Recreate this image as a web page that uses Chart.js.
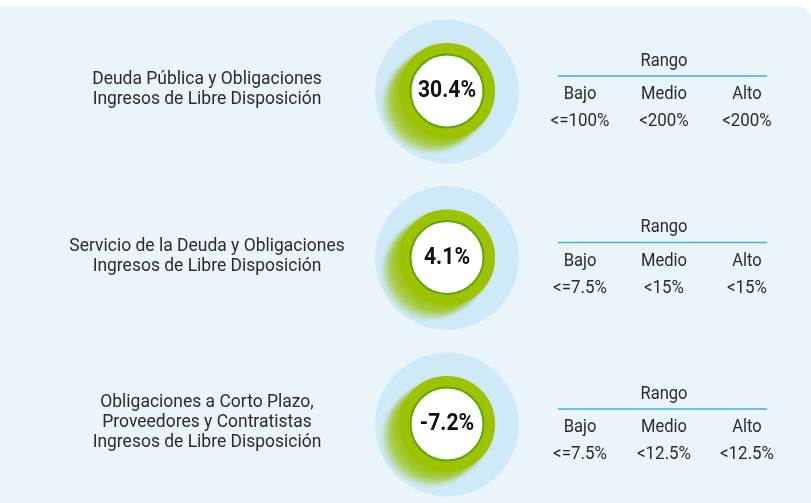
<!DOCTYPE html>
<html>
<head>
<meta charset="utf-8">
<script src="https://cdn.jsdelivr.net/npm/chart.js@4/dist/chart.umd.min.js"></script>
<style>
  html, body { margin: 0; padding: 0; background: #ffffff; overflow: hidden; }
  #wrap { position: relative; width: 811px; height: 503px; }
  #panel { position: absolute; left: -20px; top: 6px; width: 832px; height: 530px;
           background: #EAF4FB; border-top-right-radius: 16px; }
  #c { position: absolute; left: 0; top: 0; }
</style>
</head>
<body>
<div id="wrap">
  <div id="panel"></div>
  <canvas id="c" width="811" height="503"></canvas>
</div>
<script>
// ---- data ----
const indicatorKeys = ["Deuda Pública", "Servicio de la Deuda", "Obligaciones a Corto Plazo"];
const indicatorLabels = [
  ["Deuda Pública y Obligaciones", "Ingresos de Libre Disposición"],
  ["Servicio de la Deuda y Obligaciones", "Ingresos de Libre Disposición"],
  ["Obligaciones a Corto Plazo,", "Proveedores y Contratistas", "Ingresos de Libre Disposición"]
];
const values = [30.4, 4.1, -7.2];
const rangeTitle = "Rango";
const rangeLevels = ["Bajo", "Medio", "Alto"];
const rangeBajo = ["<=100%", "<=7.5%", "<=7.5%"];
const rangeMedio = ["<200%", "<15%", "<12.5%"];
const rangeAlto = ["<200%", "<15%", "<12.5%"];

// ---- style ----
const TEXT = '#2b2b2b';
const GREEN = '#9DC200';
const GREEN_DARK = '#5FA60C';
const HALO = '#D0E9F8';
const LINE = '#3DB0E6';

function condText(ctx, t, x, y, sx) {
  ctx.save();
  ctx.translate(x, y);
  ctx.scale(sx, 1);
  ctx.fillText(t, 0, 0);
  ctx.restore();
}

const infoPlugin = {
  id: 'info',
  beforeDatasetsDraw(chart) {
    const ctx = chart.ctx;
    const meta = chart.getDatasetMeta(0);
    meta.data.forEach((pt) => {
      const x = pt.x, y = pt.y;
      ctx.save();
      ctx.fillStyle = HALO;
      ctx.beginPath(); ctx.arc(x, y + 0.5, 72, 0, Math.PI * 2); ctx.fill();
      ctx.filter = 'blur(2.5px)';
      for (let k = 20; k >= 1; k--) {
        ctx.fillStyle = 'rgba(157,194,0,0.10)';
        ctx.beginPath(); ctx.arc(x - k * 0.85, y + k * 0.7, 47, 0, Math.PI * 2); ctx.fill();
      }
      ctx.restore();
    });
  },
  afterDatasetsDraw(chart) {
    const ctx = chart.ctx;
    const meta = chart.getDatasetMeta(0);
    meta.data.forEach((pt, i) => {
      const x = pt.x, y = pt.y;
      ctx.save();
      ctx.strokeStyle = GREEN_DARK;
      ctx.lineWidth = 2;
      ctx.beginPath(); ctx.arc(x, y, 36.5, 0, Math.PI * 2); ctx.stroke();
      ctx.fillStyle = '#111111';
      ctx.font = 'bold 23px Roboto';
      ctx.textAlign = 'center';
      ctx.textBaseline = 'middle';
      condText(ctx, values[i].toFixed(1) + '%', x, y + 0.5, 0.92);
      ctx.restore();
    });
  },
  afterDraw(chart) {
    const ctx = chart.ctx;
    const meta = chart.getDatasetMeta(0);
    meta.data.forEach((pt, i) => {
      const y = pt.y;
      const x = pt.x;
      ctx.save();
      ctx.fillStyle = TEXT;
      ctx.textAlign = 'center';
      ctx.textBaseline = 'middle';
      ctx.font = '19px Roboto';
      // left label
      const lines = indicatorLabels[i];
      const lh = 20;
      const y0 = y - 1.5 - (lines.length - 1) * lh / 2;
      lines.forEach((l, j) => condText(ctx, l, x - 240, y0 + j * lh, 0.92));
      // range table
      ctx.font = '18px Roboto';
      const tc = x + 217;
      condText(ctx, rangeTitle, tc, y - 30, 0.92);
      ctx.strokeStyle = LINE;
      ctx.lineWidth = 1.5;
      ctx.beginPath(); ctx.moveTo(tc - 106, y - 15); ctx.lineTo(tc + 103, y - 15); ctx.stroke();
      const cols = [tc - 84, tc, tc + 83];
      const vals = [rangeBajo[i], rangeMedio[i], rangeAlto[i]];
      rangeLevels.forEach((lv, j) => {
        condText(ctx, lv, cols[j], y + 3.5, 0.92);
        condText(ctx, vals[j], cols[j], y + 30.5, 0.94);
      });
      ctx.restore();
    });
  }
};

new Chart(document.getElementById('c'), {
  type: 'scatter',
  data: {
    datasets: [{
      data: indicatorKeys.map((k) => ({ x: 0, y: k })),
      pointRadius: 42,
      pointHoverRadius: 42,
      pointBorderWidth: 12,
      pointBorderColor: GREEN,
      pointBackgroundColor: '#ffffff',
      clip: false
    }]
  },
  plugins: [infoPlugin],
  options: {
    responsive: false,
    animation: false,
    events: [],
    layout: { padding: { left: 200, right: 117, top: 91, bottom: 79 } },
    plugins: { legend: { display: false }, tooltip: { enabled: false } },
    scales: {
      x: { type: 'linear', min: -1, max: 1, display: false },
      y: { type: 'category', labels: indicatorKeys, offset: false, display: false }
    }
  }
});
</script>
</body>
</html>
